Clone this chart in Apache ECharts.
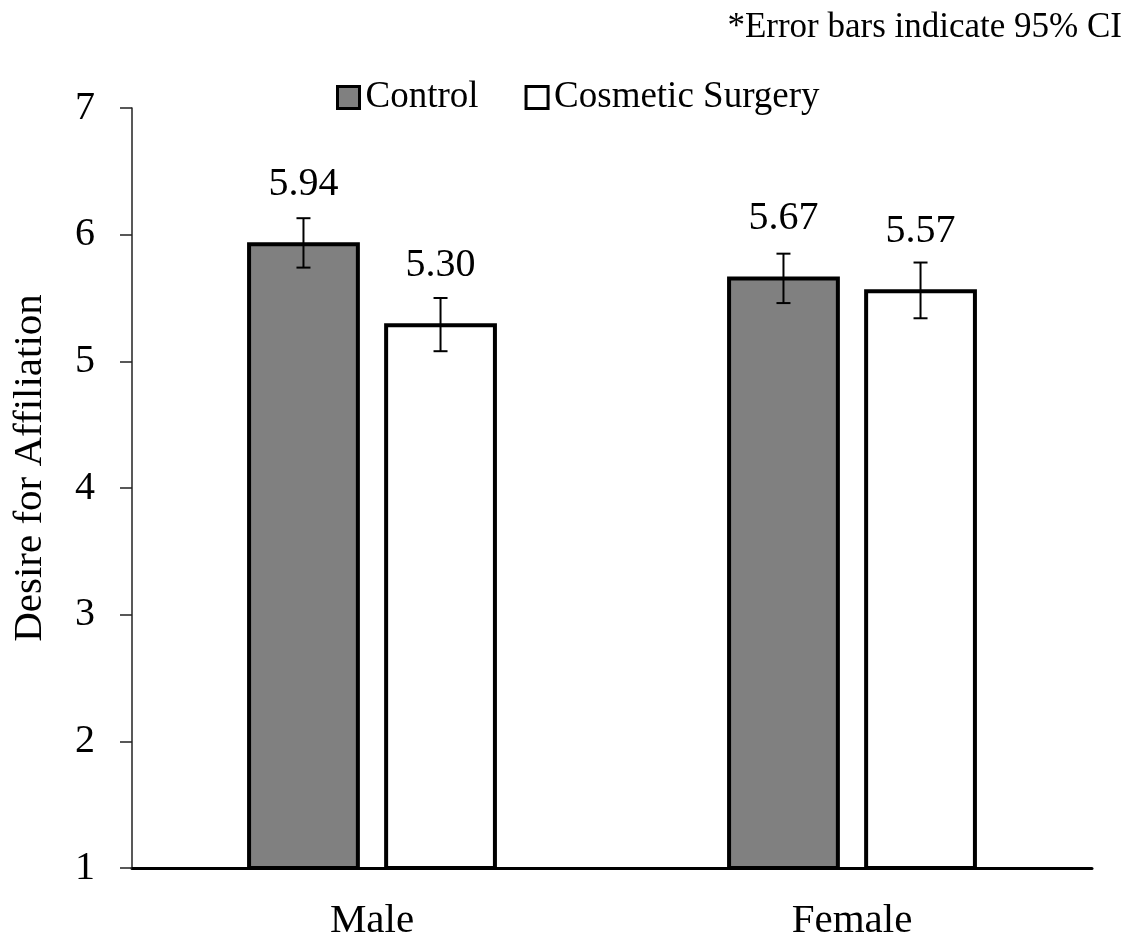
<!DOCTYPE html>
<html>
<head>
<meta charset="utf-8">
<script src="https://cdn.jsdelivr.net/npm/echarts@6/dist/echarts.min.js"></script>
<style>
html,body{margin:0;padding:0;background:#fff;}
#chart{width:1135px;height:942px;}
</style>
</head>
<body>
<div id="chart"></div>
<script>
const categories = ['Male', 'Female'];
const seriesNames = ['Control', 'Cosmetic Surgery'];
const controlValues = [5.94, 5.67];
const cosmeticValues = [5.30, 5.57];
const controlCI = [[5.74, 6.13], [5.46, 5.85]];
const cosmeticCI = [[5.08, 5.50], [5.34, 5.78]];
const yTicks = [1, 2, 3, 4, 5, 6, 7];
const yTitle = 'Desire for Affiliation';
const noteText = '*Error bars indicate 95% CI';

const FONT = '"Liberation Serif", "Times New Roman", serif';
const BAR_W = 0.235;   // fraction of band
const BAR_GAP = 0.215; // fraction of bar width
const OFFSET = (BAR_W + BAR_W * BAR_GAP) / 2;

function errorSeries(name, ci, sign) {
  return {
    type: 'custom',
    name: name + ' CI',
    z: 5,
    silent: true,
    data: ci.map((d, i) => [i, d[0], d[1]]),
    encode: { x: 0, y: [1, 2] },
    renderItem: function (params, api) {
      const idx = api.value(0);
      const lo = api.coord([idx, api.value(1)]);
      const hi = api.coord([idx, api.value(2)]);
      const band = api.size([1, 0])[0];
      const x = lo[0] + sign * OFFSET * band;
      const cap = 7;
      const style = { stroke: '#000', lineWidth: 2 };
      return {
        type: 'group',
        children: [
          { type: 'line', shape: { x1: x, y1: lo[1], x2: x, y2: hi[1] }, style: style },
          { type: 'line', shape: { x1: x - cap, y1: lo[1], x2: x + cap, y2: lo[1] }, style: style },
          { type: 'line', shape: { x1: x - cap, y1: hi[1], x2: x + cap, y2: hi[1] }, style: style }
        ]
      };
    }
  };
}

const chart = echarts.init(document.getElementById('chart'), null, { renderer: 'canvas' });
chart.setOption({
  animation: false,
  backgroundColor: '#fff',
  textStyle: { fontFamily: FONT, color: '#000' },
  grid: { left: 132, right: 43, top: 108, bottom: 72, containLabel: false },
  legend: {
    data: seriesNames,
    top: 74,
    left: 331,
    itemWidth: 22,
    itemHeight: 22,
    itemGap: 46,
    icon: 'rect',
    itemStyle: { borderWidth: 3, borderColor: '#000' },
    textStyle: { fontFamily: FONT, fontSize: 37, color: '#000', padding: [0, 0, 0, 1] }
  },
  graphic: [
    {
      type: 'text',
      right: 13,
      top: 10,
      style: { text: noteText, font: '35px ' + FONT, fill: '#000' }
    },
    {
      type: 'text',
      x: 10,
      y: 468,
      rotation: Math.PI / 2,
      style: { text: yTitle, font: '41px ' + FONT, fill: '#000', align: 'center', verticalAlign: 'top' }
    }
  ],
  xAxis: {
    type: 'category',
    data: categories,
    axisLine: { lineStyle: { color: '#000', width: 3 } },
    axisTick: { show: false },
    axisLabel: { fontFamily: FONT, fontSize: 41, color: '#000', margin: 33 }
  },
  yAxis: {
    type: 'value',
    min: yTicks[0],
    max: yTicks[yTicks.length - 1],
    interval: 1,
    splitLine: { show: false },
    axisLine: { show: true, lineStyle: { color: '#222', width: 1.5 } },
    axisTick: { show: true, length: 12, lineStyle: { color: '#222', width: 1.5 } },
    axisLabel: { fontFamily: FONT, fontSize: 40, color: '#000', margin: 37 }
  },
  series: [
    {
      name: seriesNames[0],
      type: 'bar',
      data: controlValues,
      barWidth: (BAR_W * 100) + '%',
      barGap: (BAR_GAP * 100) + '%',
      itemStyle: { color: '#808080', borderColor: '#000', borderWidth: 4 },
      label: {
        show: true, position: 'top', distance: 38,
        formatter: p => p.value.toFixed(2),
        fontFamily: FONT, fontSize: 40, color: '#000'
      },
      z: 2
    },
    {
      name: seriesNames[1],
      type: 'bar',
      data: cosmeticValues,
      barWidth: (BAR_W * 100) + '%',
      barGap: (BAR_GAP * 100) + '%',
      itemStyle: { color: '#ffffff', borderColor: '#000', borderWidth: 4 },
      label: {
        show: true, position: 'top', distance: 38,
        formatter: p => p.value.toFixed(2),
        fontFamily: FONT, fontSize: 40, color: '#000'
      },
      z: 2
    },
    errorSeries(seriesNames[0], controlCI, -1),
    errorSeries(seriesNames[1], cosmeticCI, 1)
  ]
});
</script>
</body>
</html>
